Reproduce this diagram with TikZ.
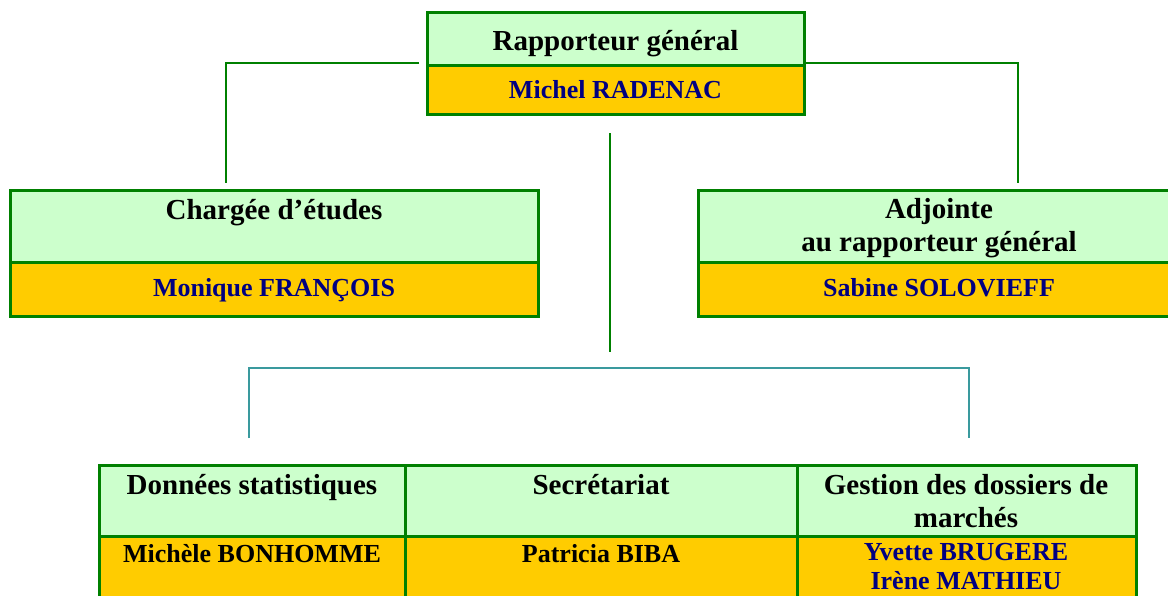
\documentclass[tikz,border=0pt]{standalone}
\usepackage{fontspec}
\setmainfont{Liberation Serif}
\definecolor{cgreen}{HTML}{CCFFCC}
\definecolor{corange}{HTML}{FFCC00}
\definecolor{cborder}{HTML}{008000}
\definecolor{cnavy}{HTML}{000080}
\definecolor{cteal}{HTML}{3A9A9E}
\begin{document}
\begin{tikzpicture}[x=1pt,y=-1pt,
  cell/.style={draw=cborder,line width=3pt,inner sep=0pt,outer sep=0pt,anchor=north west,rectangle},
  gcell/.style={cell,fill=cgreen},
  ocell/.style={cell,fill=corange},
  ttl/.style={font=\fontsize{29}{32.5}\selectfont\bfseries,anchor=base,inner sep=0pt,align=center},
  nm/.style={font=\fontsize{26}{29}\selectfont\bfseries,anchor=base,inner sep=0pt,align=center,text=cnavy},
  nmk/.style={nm,text=black},
  gline/.style={draw=cborder,line width=1.8pt},
  tline/.style={draw=cteal,line width=2pt}]
\useasboundingbox (0,0) rectangle (1168,595);
\clip (0,0) rectangle (1168,595);
\fill[white] (0,0) rectangle (1168,595);
% top box
\node[gcell,minimum width=377pt,minimum height=53pt] (rgT) at (427,12) {};
\node[ocell,minimum width=377pt,minimum height=49pt] (rgB) at (427,65) {};
\node[ttl] (rgt) at (615.5,50) {Rapporteur général};
\node[nm] (rgn) at (615.5,98) {Michel RADENAC};
% left box
\node[gcell,minimum width=528pt,minimum height=72pt] (ceT) at (10,190) {};
\node[ocell,minimum width=528pt,minimum height=54pt] (ceB) at (10,262) {};
\node[ttl] (cet) at (274,219) {Chargée d’études};
\node[nm] (cen) at (274,296) {Monique FRANÇOIS};
% right box
\node[gcell,minimum width=482pt,minimum height=72pt] (adT) at (698,190) {};
\node[ocell,minimum width=482pt,minimum height=54pt] (adB) at (698,262) {};
\node[ttl] (adt) at (939,251) {Adjointe\\au rapporteur général};
\node[nm] (adn) at (939,296) {Sabine SOLOVIEFF};
% bottom table
\node[gcell,minimum width=306pt,minimum height=71pt] (dsT) at (99,465) {};
\node[gcell,minimum width=392pt,minimum height=71pt] (seT) at (405,465) {};
\node[gcell,minimum width=339pt,minimum height=71pt] (gdT) at (797,465) {};
\node[ocell,minimum width=306pt,minimum height=90pt] (dsB) at (99,536) {};
\node[ocell,minimum width=392pt,minimum height=90pt] (seB) at (405,536) {};
\node[ocell,minimum width=339pt,minimum height=90pt] (gdB) at (797,536) {};
\node[ttl] (dst) at (252,494) {Données statistiques};
\node[ttl] (set) at (601,494) {Secrétariat};
\node[ttl] (gdt) at (966,527) {Gestion des dossiers de\\marchés};
\node[nmk] (dsn) at (252,562) {Michèle BONHOMME};
\node[nmk] (sen) at (601,562) {Patricia BIBA};
\node[nm] (gdn) at (966,589) {Yvette BRUGERE\\Irène MATHIEU};
% connectors
\coordinate (l1) at (419,63);
\coordinate (l2) at (226,183);
\coordinate (r1) at (804,63);
\coordinate (r2) at (1018,183);
\coordinate (c1) at (610,133);
\coordinate (c2) at (610,352);
\coordinate (t1) at (249,438);
\coordinate (t2) at (969,438);
\coordinate (th) at (0,368);
\draw[gline] (l1) -| (l2);
\draw[gline] (r1) -| (r2);
\draw[gline] (c1) -- (c2);
\draw[tline] (t1) |- (th -| t2) -- (t2);
\end{tikzpicture}
\end{document}
